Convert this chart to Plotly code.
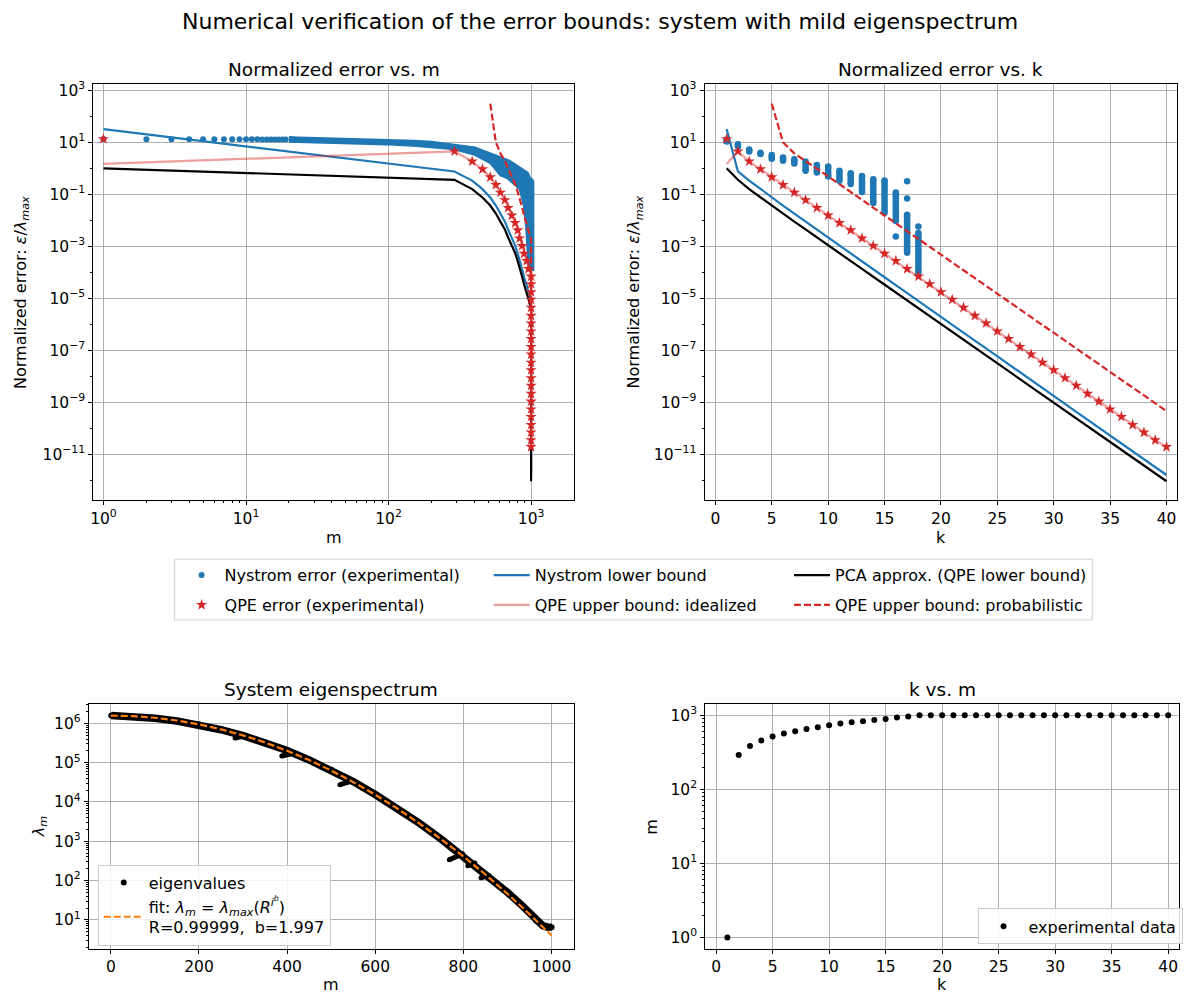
import plotly.graph_objects as go

W, H = 1196, 994
BLUE = '#1f77b4'
RED = '#d62728'
ORANGE = '#ff7f0e'
LIGHTRED = 'rgba(214,39,40,0.45)'
FONT = 'DejaVu Sans'
GRID = '#b0b0b0'

# ---------------- data (log10 values) ----------------
k_vals = list(range(1, 41))
m_of_k = [1, 290, 386, 456, 517, 566, 609, 655, 690, 733, 773, 806, 830, 865, 893, 931, 959,
          1000, 1000, 1000, 1000, 1000, 1000, 1000, 1000, 1000, 1000, 1000, 1000, 1000,
          1000, 1000, 1000, 1000, 1000, 1000, 1000, 1000, 1000, 1000]

qpe_err_log10 = [1.13, 0.655, 0.27, -0.03, -0.34, -0.635, -0.93, -1.22, -1.52, -1.81,
                 -2.10, -2.38, -2.69, -2.98, -3.28, -3.56, -3.87, -4.16, -4.45, -4.76,
                 -5.05, -5.36, -5.67, -5.96, -6.27, -6.56, -6.87, -7.16, -7.47, -7.76,
                 -8.07, -8.36, -8.67, -8.97, -9.27, -9.56, -9.87, -10.16, -10.46, -10.72]
qpe_ideal_log10 = [0.17, 0.655, 0.27, -0.03, -0.34, -0.635, -0.93, -1.22, -1.52, -1.81,
                   -2.10, -2.38, -2.69, -2.98, -3.28, -3.56, -3.87, -4.16, -4.45, -4.76,
                   -5.05, -5.36, -5.67, -5.96, -6.27, -6.56, -6.87, -7.16, -7.47, -7.76,
                   -8.07, -8.36, -8.67, -8.97, -9.27, -9.56, -9.87, -10.16, -10.46, -10.72]
qpe_prob_log10 = [None, None, None, None, 2.49, 1.0, 0.575, 0.29, -0.01, -0.31,
                  -0.61, -0.91, -1.21, -1.51, -1.81, -2.11, -2.41, -2.72, -3.02, -3.32,
                  -3.62, -3.92, -4.22, -4.52, -4.82, -5.12, -5.42, -5.72, -6.03, -6.33,
                  -6.63, -6.93, -7.23, -7.53, -7.83, -8.13, -8.43, -8.73, -9.04, -9.34]
nys_lb_log10 = [1.51, -0.12, -0.47, -0.80, -1.12, -1.43, -1.74, -2.05, -2.36, -2.67,
                -2.97, -3.28, -3.58, -3.88, -4.19, -4.49, -4.80, -5.10, -5.41, -5.71,
                -6.02, -6.32, -6.63, -6.93, -7.23, -7.54, -7.84, -8.15, -8.45, -8.76,
                -9.06, -9.37, -9.67, -9.97, -10.28, -10.58, -10.89, -11.19, -11.50, -11.80]
pca_log10 = [0.0, -0.44, -0.80, -1.12, -1.43, -1.74, -2.05, -2.35, -2.66, -2.96,
             -3.26, -3.57, -3.87, -4.17, -4.47, -4.78, -5.08, -5.38, -5.68, -5.99,
             -6.29, -6.59, -6.90, -7.20, -7.50, -7.80, -8.11, -8.41, -8.71, -9.01,
             -9.32, -9.62, -9.92, -10.22, -10.53, -10.83, -11.13, -11.43, -11.74, -12.04]

# Nystrom experimental error vs m: isolated points at small m, then a dense band
nys_dot_m = [1, 2, 3, 4, 5, 6, 7, 8, 9, 10, 11, 12, 13, 14, 15, 16, 17, 18, 19]
nys_dot_log10 = [1.13, 1.12, 1.12, 1.12, 1.12, 1.12, 1.12, 1.12, 1.12, 1.12,
                 1.12, 1.12, 1.11, 1.11, 1.11, 1.11, 1.11, 1.11, 1.11]
nys_band_m = [20, 50, 100, 150, 200, 290, 400, 476, 530, 623, 693, 771, 859, 920, 955, 975, 990, 1000]
nys_band_hi_log10 = [1.11, 1.07, 1.02, 0.98, 0.94, 0.84, 0.72, 0.56, 0.47, 0.30, 0.22, 0.05,
                     -0.08, -0.22, -0.43, -0.45, -0.48, -0.55]
nys_band_lo_log10 = [1.11, 1.06, 1.00, 0.96, 0.91, 0.82, 0.62, 0.40, 0.27, -0.20, -0.30, -0.55,
                     -0.75, -1.40, -2.20, -3.00, -3.70, -3.95]

# Nystrom experimental error vs k: column extents per k
nys_col_k = list(range(1, 19))
nys_col_hi_log10 = [1.11, 0.93, 0.73, 0.60, 0.51, 0.42, 0.35, 0.26, 0.13, 0.07,
                    -0.09, -0.19, -0.29, -0.42, -0.47, -0.93, -1.79, -2.49]
nys_col_lo_log10 = [1.03, 0.84, 0.65, 0.55, 0.37, 0.29, 0.19, -0.09, -0.16, -0.31,
                    -0.48, -0.60, -0.91, -1.33, -1.71, -2.03, -3.25, -4.01]
nys_out_k = [16, 17, 17, 18]
nys_out_log10 = [-2.62, -0.50, -1.16, -2.24]

# eigenspectrum
eig_m = [1, 50, 100, 150, 200, 250, 300, 350, 400, 450, 500, 550, 600, 650, 700, 750,
         800, 850, 900, 930, 950, 965, 980, 990, 1000]
eig_log10 = [6.20, 6.18, 6.13, 6.06, 5.97, 5.84, 5.69, 5.52, 5.31, 5.07, 4.82, 4.52, 4.19,
             3.84, 3.46, 3.05, 2.62, 2.16, 1.70, 1.40, 1.17, 0.98, 0.85, 0.82, 0.81]
hook_m = [62, 80, None, 282, 300, None, 388, 412, None, 520, 548, None, 768, 798, None,
          810, 826, None, 840, 858]
hook_log10 = [6.13, 6.15, None, 5.63, 5.67, None, 5.17, 5.23, None, 4.44, 4.54, None,
              2.53, 2.68, None, 2.38, 2.45, None, 2.07, 2.13]
fit_m = [0, 50, 100, 150, 200, 250, 300, 350, 400, 450, 500, 550, 600, 650, 700, 750,
         800, 850, 900, 950, 1000]
fit_log10 = [6.20, 6.186, 6.144, 6.074, 5.976, 5.85, 5.696, 5.514, 5.304, 5.066, 4.80,
             4.506, 4.184, 3.834, 3.456, 3.05, 2.616, 2.154, 1.664, 1.146, 0.60]

# ---------------- helpers ----------------
def p10(arr):
    return [None if v is None else 10 ** v for v in arr]


def xd(a, b):
    return [a / W, b / W]


def yd(top, bottom):
    return [1 - bottom / H, 1 - top / H]


def sup(p):
    s = str(p) if p >= 0 else '\u2212' + str(-p)
    return '10<sup>' + s + '</sup>'


LW = 2.2
STAR = 8.5
fig = go.Figure()

# ---------- top-left: error vs m ----------
band_x = nys_band_m + nys_band_m[::-1]
band_y = p10(nys_band_hi_log10 + nys_band_lo_log10[::-1])
fig.add_trace(go.Scatter(x=band_x, y=band_y, mode='lines', fill='toself', fillcolor=BLUE,
                         line=dict(color=BLUE, width=6.5), showlegend=False,
                         xaxis='x', yaxis='y', hoverinfo='skip'))
fig.add_trace(go.Scatter(x=nys_dot_m, y=p10(nys_dot_log10), mode='markers',
                         marker=dict(color=BLUE, size=6), name='Nystrom error (experimental)',
                         legend='legend', legendgroup='a', xaxis='x', yaxis='y'))
fig.add_trace(go.Scatter(x=m_of_k, y=p10(nys_lb_log10), mode='lines', line=dict(color=BLUE, width=LW),
                         name='Nystrom lower bound', legend='legend2', legendgroup='b',
                         xaxis='x', yaxis='y'))
fig.add_trace(go.Scatter(x=m_of_k, y=p10(pca_log10), mode='lines', line=dict(color='black', width=LW),
                         name='PCA approx. (QPE lower bound)', legend='legend3', legendgroup='c',
                         xaxis='x', yaxis='y'))
fig.add_trace(go.Scatter(x=m_of_k, y=p10(qpe_ideal_log10), mode='lines',
                         line=dict(color=LIGHTRED, width=LW),
                         name='QPE upper bound: idealized', legend='legend2', legendgroup='e',
                         xaxis='x', yaxis='y'))
fig.add_trace(go.Scatter(x=m_of_k, y=p10(qpe_err_log10), mode='markers',
                         marker=dict(color=RED, size=STAR, symbol='star', line=dict(width=0)),
                         name='QPE error (experimental)', legend='legend', legendgroup='d',
                         xaxis='x', yaxis='y'))
fig.add_trace(go.Scatter(x=m_of_k, y=p10(qpe_prob_log10), mode='lines',
                         line=dict(color=RED, width=LW, dash='7px,3px'),
                         name='QPE upper bound: probabilistic', legend='legend3', legendgroup='f',
                         xaxis='x', yaxis='y'))

# ---------- top-right: error vs k ----------
col_x, col_y = [], []
for kk, lo, hi in zip(nys_col_k, nys_col_lo_log10, nys_col_hi_log10):
    col_x += [kk, kk, None]
    col_y += [10 ** lo, 10 ** hi, None]
fig.add_trace(go.Scatter(x=col_x, y=col_y, mode='lines+markers', line=dict(color=BLUE, width=6.5),
                         marker=dict(color=BLUE, size=6.5), showlegend=False, xaxis='x2', yaxis='y2'))
fig.add_trace(go.Scatter(x=nys_out_k, y=p10(nys_out_log10), mode='markers',
                         marker=dict(color=BLUE, size=6.5), showlegend=False, xaxis='x2', yaxis='y2'))
fig.add_trace(go.Scatter(x=k_vals, y=p10(nys_lb_log10), mode='lines', line=dict(color=BLUE, width=LW),
                         showlegend=False, xaxis='x2', yaxis='y2'))
fig.add_trace(go.Scatter(x=k_vals, y=p10(pca_log10), mode='lines', line=dict(color='black', width=LW),
                         showlegend=False, xaxis='x2', yaxis='y2'))
fig.add_trace(go.Scatter(x=k_vals, y=p10(qpe_ideal_log10), mode='lines',
                         line=dict(color=LIGHTRED, width=LW), showlegend=False, xaxis='x2', yaxis='y2'))
fig.add_trace(go.Scatter(x=k_vals, y=p10(qpe_err_log10), mode='markers',
                         marker=dict(color=RED, size=STAR, symbol='star', line=dict(width=0)),
                         showlegend=False, xaxis='x2', yaxis='y2'))
fig.add_trace(go.Scatter(x=k_vals, y=p10(qpe_prob_log10), mode='lines',
                         line=dict(color=RED, width=LW, dash='7px,3px'),
                         showlegend=False, xaxis='x2', yaxis='y2'))

# ---------- bottom-left: eigenspectrum ----------
fig.add_trace(go.Scatter(x=eig_m, y=p10(eig_log10), mode='lines', line=dict(color='black', width=7.5),
                         showlegend=False, xaxis='x3', yaxis='y3'))
fig.add_trace(go.Scatter(x=hook_m, y=p10(hook_log10), mode='lines+markers',
                         line=dict(color='black', width=5), marker=dict(color='black', size=5),
                         showlegend=False, xaxis='x3', yaxis='y3'))
fig.add_trace(go.Scatter(x=eig_m, y=p10(eig_log10), mode='markers', marker=dict(color='black', size=6),
                         name='eigenvalues', legend='legend4', xaxis='x3', yaxis='y3'))
fig.add_trace(go.Scatter(x=fit_m, y=p10(fit_log10), mode='lines',
                         line=dict(color=ORANGE, width=LW, dash='7px,3px'),
                         name='fit: <i>λ<sub>m</sub></i> = <i>λ<sub>max</sub></i>(<i>R<sup>i<sup>b</sup></sup></i>)<br>R=0.99999,  b=1.997',
                         legend='legend4', xaxis='x3', yaxis='y3'))

# ---------- bottom-right: k vs m ----------
fig.add_trace(go.Scatter(x=k_vals, y=m_of_k, mode='markers', marker=dict(color='black', size=6),
                         name='experimental data', legend='legend5', xaxis='x4', yaxis='y4'))

# ---------------- axes ----------------
TICK = 15.5
tickfont = dict(family=FONT, size=TICK, color='black')


def base_axis(**kw):
    d = dict(showline=True, linecolor='black', linewidth=1, mirror=True, ticks='outside',
             ticklen=4, tickwidth=1, tickcolor='black', showgrid=True, gridcolor=GRID,
             gridwidth=1, zeroline=False, tickfont=tickfont, layer='above traces')
    d.update(kw)
    return d


top_dom = yd(79.3, 497.7)
bot_dom = yd(702.7, 948.3)

err_tick_p = [3, 1, -1, -3, -5, -7, -9, -11]
err_minor_p = [2, 0, -2, -4, -6, -8, -10, -12]
err_y = dict(type='log', range=[-12.77, 3.25], tickmode='array',
             tickvals=[10 ** p for p in err_tick_p], ticktext=[sup(p) for p in err_tick_p],
             minor=dict(tickmode='array', tickvals=[10 ** p for p in err_minor_p], ticks='outside',
                        ticklen=2, tickcolor='black', showgrid=False))

m_minor = [a * 10 ** b for b in range(0, 3) for a in range(2, 10)] + [2000]
fig.update_layout(
    xaxis=base_axis(domain=xd(90.5, 572.3), anchor='y', type='log', range=[-0.0714, 3.30],
                    tickmode='array', tickvals=[1, 10, 100, 1000], ticktext=[sup(p) for p in range(4)],
                    minor=dict(tickmode='array', tickvals=m_minor, ticks='outside', ticklen=2,
                               tickcolor='black', showgrid=False)),
    yaxis=base_axis(domain=top_dom, anchor='x', **err_y),
    xaxis2=base_axis(domain=xd(703.3, 1177.3), anchor='y2', range=[-0.96, 40.96],
                     tickmode='array', tickvals=list(range(0, 41, 5))),
    yaxis2=base_axis(domain=top_dom, anchor='x2', **err_y),
)

dec_minor_bl = [a * 10 ** b for b in range(0, 7) for a in range(2, 10)]
fig.update_layout(
    xaxis3=base_axis(domain=xd(86, 572), anchor='y3', range=[-50, 1050], tickmode='array',
                     tickvals=[0, 200, 400, 600, 800, 1000]),
    yaxis3=base_axis(domain=bot_dom, anchor='x3', type='log', range=[0.27, 6.49], tickmode='array',
                     tickvals=[10 ** p for p in range(1, 7)], ticktext=[sup(p) for p in range(1, 7)],
                     minor=dict(tickmode='array', tickvals=dec_minor_bl, ticks='outside', ticklen=2,
                                tickcolor='black', showgrid=False)),
    xaxis4=base_axis(domain=xd(704, 1179), anchor='y4', range=[-0.96, 40.96], tickmode='array',
                     tickvals=list(range(0, 41, 5))),
    yaxis4=base_axis(domain=bot_dom, anchor='x4', type='log', range=[-0.15, 3.15], tickmode='array',
                     tickvals=[1, 10, 100, 1000], ticktext=[sup(p) for p in range(4)],
                     minor=dict(tickmode='array',
                                tickvals=[a * 10 ** b for b in range(0, 3) for a in range(2, 10)],
                                ticks='outside', ticklen=2, tickcolor='black', showgrid=False)),
)

# ---------------- text ----------------
def ann(text, px, py, size=16, angle=0):
    return dict(text=text, x=px / W, y=1 - py / H, xref='paper', yref='paper', showarrow=False,
                xanchor='center', yanchor='middle', textangle=angle,
                font=dict(family=FONT, size=size, color='black'))


ylab = 'Normalized error: <i>ε</i>/<i>λ<sub>max</sub></i>'
annotations = [
    ann('Numerical verification of the error bounds: system with mild eigenspectrum', 598, 17, 22),
    ann('Normalized error vs. m', 331.4, 65, 18.5),
    ann('Normalized error vs. k', 940.3, 65, 18.5),
    ann('System eigenspectrum', 329, 688, 18.5),
    ann('k vs. m', 941.5, 688, 18.5),
    ann('m', 331.4, 535),
    ann('k', 940.3, 535),
    ann('m', 329, 984),
    ann('k', 941.5, 984),
    ann(ylab, 18, 288.5, 16, -90),
    ann(ylab, 633, 288.5, 16, -90),
    ann('<i>λ<sub>m</sub></i>', 36, 825.5, 16, -90),
    ann('m', 650, 825.5, 16, -90),
]

legfont = dict(family=FONT, size=16, color='black')


def leg(px, py, border=False, itemwidth=36, gap=10):
    d = dict(x=px / W, y=1 - py / H, xanchor='left', yanchor='top', orientation='v',
             font=legfont, itemwidth=itemwidth, tracegroupgap=gap, traceorder='grouped',
             bgcolor='rgba(255,255,255,0)' if not border else 'rgba(255,255,255,0.85)',
             borderwidth=1 if border else 0, bordercolor='#cccccc')
    return d


fig.update_layout(
    width=W, height=H, autosize=False,
    margin=dict(l=0, r=0, t=0, b=0),
    paper_bgcolor='white', plot_bgcolor='white',
    font=dict(family=FONT, size=16, color='black'),
    annotations=annotations,
    legend=leg(176, 556, gap=6),
    legend2=leg(487, 556, gap=6),
    legend3=leg(788, 556, gap=6),
    legend4=leg(95, 864, border=True, itemwidth=40, gap=2),
    legend5=leg(977, 908, border=True, itemwidth=40),
    shapes=[dict(type='rect', xref='paper', yref='paper', x0=172 / W, x1=1092 / W,
                 y0=1 - 618 / H, y1=1 - 557 / H, line=dict(color='#d0d0d0', width=1))],
)

fig.write_html('out.html')
